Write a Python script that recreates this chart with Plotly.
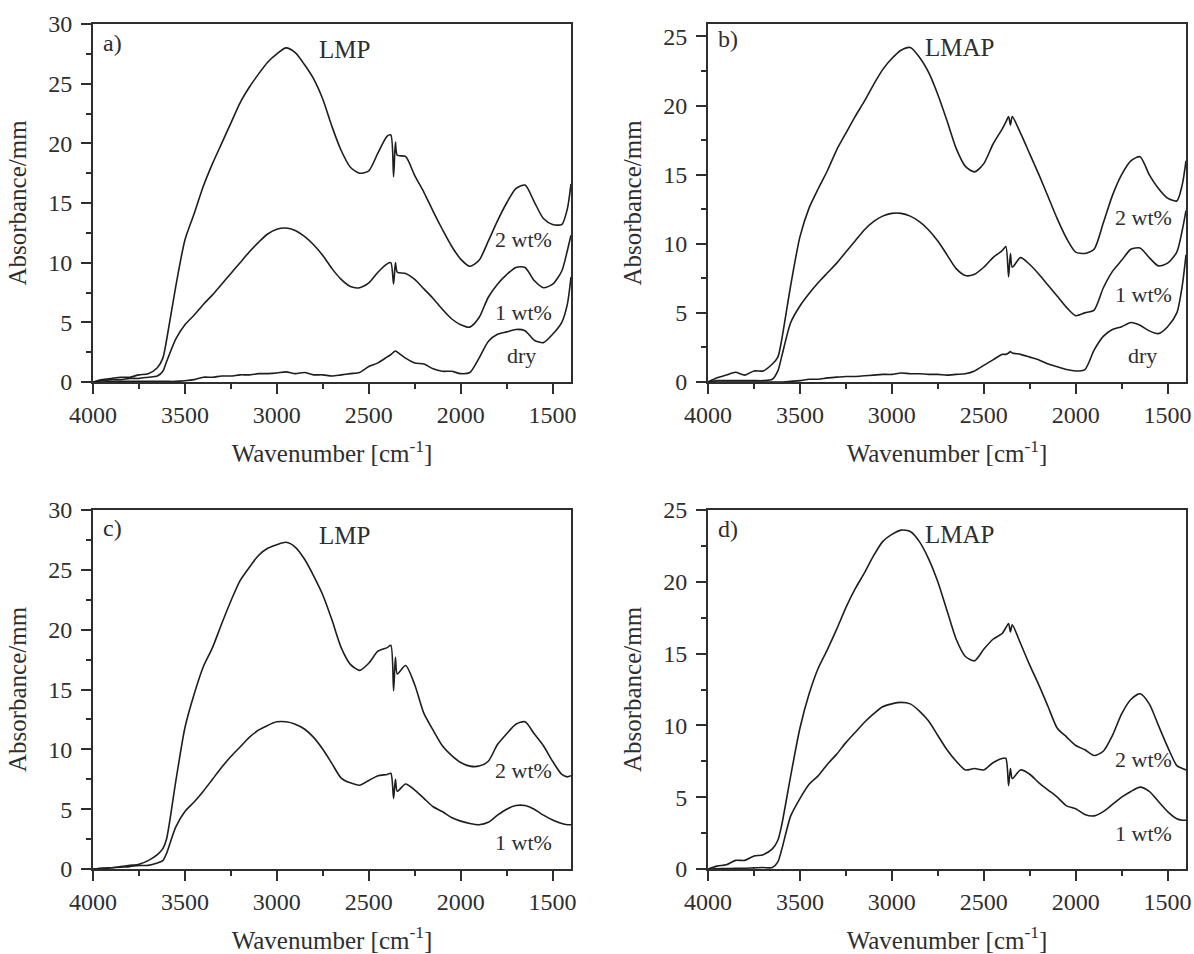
import plotly.graph_objects as go
from plotly.subplots import make_subplots

# wavenumber grid (cm^-1)
wn = [4000, 3950, 3900, 3850, 3800, 3750, 3700, 3650, 3620, 3600, 3550, 3500, 3450, 3400, 3350,
      3300, 3250, 3200, 3150, 3100, 3050, 3000, 2950, 2900, 2850, 2800, 2750, 2700, 2650, 2600,
      2550, 2500, 2450, 2400, 2380, 2365, 2355, 2345, 2300, 2250, 2200, 2150, 2100, 2050, 2000,
      1950, 1900, 1850, 1800, 1750, 1700, 1650, 1600, 1550, 1500, 1450, 1420, 1400]

# a) LMP
a_2wt = [0.0, 0.2, 0.3, 0.4, 0.4, 0.6, 0.7, 1.2, 2.0, 3.5, 8.0, 11.9, 14.1, 16.4, 18.3,
         20.0, 21.7, 23.4, 24.7, 25.8, 26.8, 27.5, 28.0, 27.6, 26.6, 25.4, 23.7, 21.4, 19.4, 18.0,
         17.5, 17.7, 19.2, 20.6, 20.7, 17.2, 20.1, 19.0, 18.9, 17.3, 15.9, 14.3, 12.8, 11.4, 10.3,
         9.7, 10.2, 11.8, 13.5, 15.0, 16.2, 16.5, 15.1, 13.7, 13.2, 13.2, 14.5, 16.6]
a_1wt = [0.0, 0.1, 0.2, 0.2, 0.3, 0.3, 0.4, 0.5, 0.9, 1.7, 3.6, 4.8, 5.6, 6.5, 7.3,
         8.2, 9.1, 10.0, 10.9, 11.7, 12.4, 12.8, 12.9, 12.7, 12.2, 11.5, 10.6, 9.5, 8.6, 8.0,
         7.9, 8.3, 9.2, 9.9, 10.0, 8.2, 10.0, 9.2, 9.1, 8.6, 7.8, 7.0, 6.1, 5.3, 4.8,
         4.6, 5.4, 7.1, 8.2, 9.0, 9.6, 9.6, 8.5, 7.9, 8.2, 9.3, 11.0, 12.3]
a_dry = [0.0, 0.0, 0.05, 0.05, 0.05, 0.05, 0.05, 0.05, 0.05, 0.05, 0.05, 0.1, 0.2, 0.4, 0.4,
         0.5, 0.5, 0.6, 0.6, 0.7, 0.7, 0.75, 0.85, 0.7, 0.8, 0.6, 0.6, 0.5, 0.6, 0.7,
         0.8, 1.3, 1.6, 2.1, 2.3, 2.5, 2.6, 2.5, 2.0, 1.6, 1.5, 1.1, 0.9, 0.9, 0.7,
         0.8, 2.0, 3.4, 4.0, 4.2, 4.4, 4.3, 3.5, 3.3, 4.0, 5.0, 6.5, 8.8]

# b) LMAP
b_2wt = [0.0, 0.3, 0.5, 0.7, 0.5, 0.8, 0.8, 1.3, 1.8, 3.0, 7.0, 10.5, 12.6, 14.0, 15.3,
         16.8, 18.0, 19.2, 20.3, 21.5, 22.6, 23.4, 24.0, 24.2, 23.5, 22.4, 20.8, 18.9, 16.9, 15.6,
         15.2, 15.8, 17.2, 18.3, 18.8, 19.2, 18.6, 19.2, 18.0, 16.5, 15.0, 13.4, 11.8, 10.4, 9.4,
         9.3, 9.6, 11.5, 13.5, 15.0, 16.0, 16.3, 15.0, 14.0, 13.3, 13.1, 14.3, 16.0]
b_1wt = [0.0, 0.1, 0.1, 0.1, 0.1, 0.1, 0.1, 0.2, 0.8, 1.8, 4.3, 5.5, 6.4, 7.2, 7.9,
         8.6, 9.4, 10.2, 11.0, 11.6, 12.0, 12.2, 12.2, 12.0, 11.6, 11.0, 10.2, 9.2, 8.2, 7.7,
         7.8, 8.3, 9.0, 9.5, 9.8, 7.6, 9.3, 8.3, 9.0, 8.5, 7.8, 7.0, 6.2, 5.4, 4.8,
         5.0, 5.2, 6.8, 8.0, 8.8, 9.6, 9.7, 9.0, 8.4, 8.6, 9.4, 11.0, 12.4]
b_dry = [0.0, 0.0, 0.0, 0.0, 0.0, 0.0, 0.0, 0.0, 0.0, 0.0, 0.05, 0.1, 0.2, 0.2, 0.3,
         0.35, 0.4, 0.4, 0.45, 0.5, 0.55, 0.55, 0.65, 0.6, 0.6, 0.55, 0.55, 0.5, 0.55, 0.6,
         0.8, 1.2, 1.6, 2.0, 2.0, 2.1, 2.2, 2.1, 2.0, 1.8, 1.6, 1.3, 1.1, 0.9, 0.8,
         0.9, 2.3, 3.3, 3.8, 4.0, 4.3, 4.1, 3.7, 3.5, 4.0, 5.0, 7.0, 9.2]

# c) LMP
c_2wt = [0.0, 0.05, 0.1, 0.2, 0.3, 0.4, 0.7, 1.2, 1.7, 2.5, 7.3, 11.8, 14.6, 16.9, 18.5,
         20.5, 22.4, 24.1, 25.2, 26.2, 26.8, 27.1, 27.3, 26.9, 25.9, 24.5, 22.9, 20.8, 18.5, 17.1,
         16.6, 17.2, 18.2, 18.5, 18.7, 14.9, 17.7, 16.3, 17.0, 15.4, 13.0, 11.6, 10.3, 9.5, 8.9,
         8.6, 8.6, 9.0, 10.4, 11.3, 12.1, 12.3, 11.3, 10.3, 9.0, 7.9, 7.7, 7.8]
c_1wt = [0.0, 0.05, 0.1, 0.15, 0.2, 0.3, 0.3, 0.5, 0.7, 1.3, 3.5, 4.8, 5.6, 6.5, 7.5,
         8.5, 9.4, 10.2, 11.0, 11.6, 12.0, 12.3, 12.3, 12.1, 11.7, 11.0, 10.0, 8.8, 7.6, 7.2,
         7.0, 7.4, 7.8, 7.9, 8.0, 5.9, 7.5, 6.5, 7.1, 6.6, 5.9, 5.2, 4.8, 4.3, 4.0,
         3.8, 3.7, 3.9, 4.5, 5.0, 5.3, 5.3, 5.0, 4.5, 4.1, 3.8, 3.7, 3.7]

# d) LMAP
d_2wt = [0.0, 0.2, 0.3, 0.6, 0.6, 0.9, 1.0, 1.4, 2.0, 3.0, 6.5, 9.8, 12.2, 14.0, 15.3,
         16.7, 18.2, 19.5, 20.6, 21.8, 22.8, 23.3, 23.6, 23.5, 22.8, 21.6, 20.0, 18.0, 16.0, 14.8,
         14.5, 15.3, 16.0, 16.4, 16.8, 17.1, 16.5, 17.0, 15.7, 14.2, 12.8, 11.3, 9.8, 9.2, 8.6,
         8.3, 7.9, 8.2, 9.3, 10.8, 11.8, 12.2, 11.5, 10.0, 8.5, 7.2, 7.0, 6.9]
d_1wt = [0.0, 0.02, 0.03, 0.05, 0.05, 0.08, 0.1, 0.1, 0.5, 1.3, 3.7, 4.9, 5.9, 6.5, 7.3,
         8.0, 8.8, 9.5, 10.2, 10.8, 11.3, 11.5, 11.6, 11.5, 11.0, 10.3, 9.3, 8.3, 7.5, 6.9,
         7.0, 6.9, 7.4, 7.7, 7.7, 5.8, 7.0, 6.3, 6.9, 6.6, 6.0, 5.5, 5.0, 4.4, 4.2,
         3.8, 3.7, 4.0, 4.5, 5.0, 5.4, 5.7, 5.4, 4.7, 4.0, 3.5, 3.4, 3.4]

panels = [
    dict(series=[a_2wt, a_1wt, a_dry], yr=[0, 30], tag="a)", name="LMP",
         labels=[("2 wt%", 1656, 11.9), ("1 wt%", 1656, 5.8), ("dry", 1667, 2.2)],
         tagy=28.4, namey=27.9),
    dict(series=[b_2wt, b_1wt, b_dry], yr=[0, 25.9], tag="b)", name="LMAP",
         labels=[("2 wt%", 1629, 11.9), ("1 wt%", 1629, 6.3), ("dry", 1635, 1.9)],
         tagy=24.8, namey=24.2),
    dict(series=[c_2wt, c_1wt], yr=[0, 30], tag="c)", name="LMP",
         labels=[("2 wt%", 1656, 8.2), ("1 wt%", 1656, 2.2)],
         tagy=28.5, namey=27.9),
    dict(series=[d_2wt, d_1wt], yr=[0, 25], tag="d)", name="LMAP",
         labels=[("2 wt%", 1629, 7.6), ("1 wt%", 1629, 2.5)],
         tagy=23.7, namey=23.3),
]

FONT = "Liberation Serif"
INK = "#2e2e2e"

fig = make_subplots(rows=2, cols=2)
xdoms = [[93 / 1194, 571 / 1194], [708 / 1194, 1186 / 1194]]
ydoms = [[1 - 382 / 954, 1 - 24 / 954], [1 - 869 / 954, 1 - 510 / 954]]

for i, p in enumerate(panels):
    r, c = i // 2 + 1, i % 2 + 1
    for s in p["series"]:
        fig.add_trace(go.Scatter(x=wn, y=s, mode="lines",
                                 line=dict(color="#1e1e1e", width=1.6, shape="spline",
                                           smoothing=0.7),
                                 showlegend=False, hoverinfo="skip"), row=r, col=c)
    ax = "" if i == 0 else str(i + 1)
    xref, yref = "x" + ax, "y" + ax
    fig.add_annotation(x=3955, y=p["tagy"], xref=xref, yref=yref, text=p["tag"],
                       showarrow=False, xanchor="left",
                       font=dict(family=FONT, size=24, color=INK))
    fig.add_annotation(x=2630, y=p["namey"], xref=xref, yref=yref, text=p["name"],
                       showarrow=False, font=dict(family=FONT, size=25, color=INK))
    for txt, lx, ly in p["labels"]:
        fig.add_annotation(x=lx, y=ly, xref=xref, yref=yref, text=txt,
                           showarrow=False, font=dict(family=FONT, size=22, color=INK))
    fig.update_xaxes(row=r, col=c, domain=xdoms[c - 1], range=[4000, 1400],
                     tickvals=[4000, 3500, 3000, 2500, 2000, 1500],
                     ticks="outside", ticklen=10, tickwidth=2, tickcolor=INK,
                     minor=dict(tickvals=[3750, 3250, 2750, 2250, 1750], ticks="outside",
                                ticklen=5, tickwidth=2, tickcolor=INK),
                     showline=True, linecolor=INK, linewidth=2, mirror=True,
                     showgrid=False, zeroline=False, automargin=False,
                     tickfont=dict(family=FONT, size=24, color=INK),
                     title=dict(text="Wavenumber [cm<sup>-1</sup>]", standoff=18,
                                font=dict(family=FONT, size=25, color=INK)))
    ymax = p["yr"][1]
    fig.update_yaxes(row=r, col=c, domain=ydoms[r - 1], range=p["yr"],
                     tickvals=[v for v in range(0, 31, 5) if v <= ymax],
                     ticks="outside", ticklen=10, tickwidth=2, tickcolor=INK,
                     ticklabelstandoff=4,
                     minor=dict(tickvals=[2.5 + 5 * k for k in range(6) if 2.5 + 5 * k < ymax],
                                ticks="outside", ticklen=5, tickwidth=2, tickcolor=INK),
                     showline=True, linecolor=INK, linewidth=2, mirror=True,
                     showgrid=False, zeroline=False, automargin=False,
                     tickfont=dict(family=FONT, size=24, color=INK),
                     title=dict(text="Absorbance/mm", standoff=14,
                                font=dict(family=FONT, size=25, color=INK)))

fig.update_layout(width=1194, height=954, margin=dict(l=0, r=0, t=0, b=0),
                  paper_bgcolor="white", plot_bgcolor="white", showlegend=False)
fig.write_html("out.html", config={"displayModeBar": False},
               post_script="document.body.style.margin='0';document.body.style.overflow='hidden';")
